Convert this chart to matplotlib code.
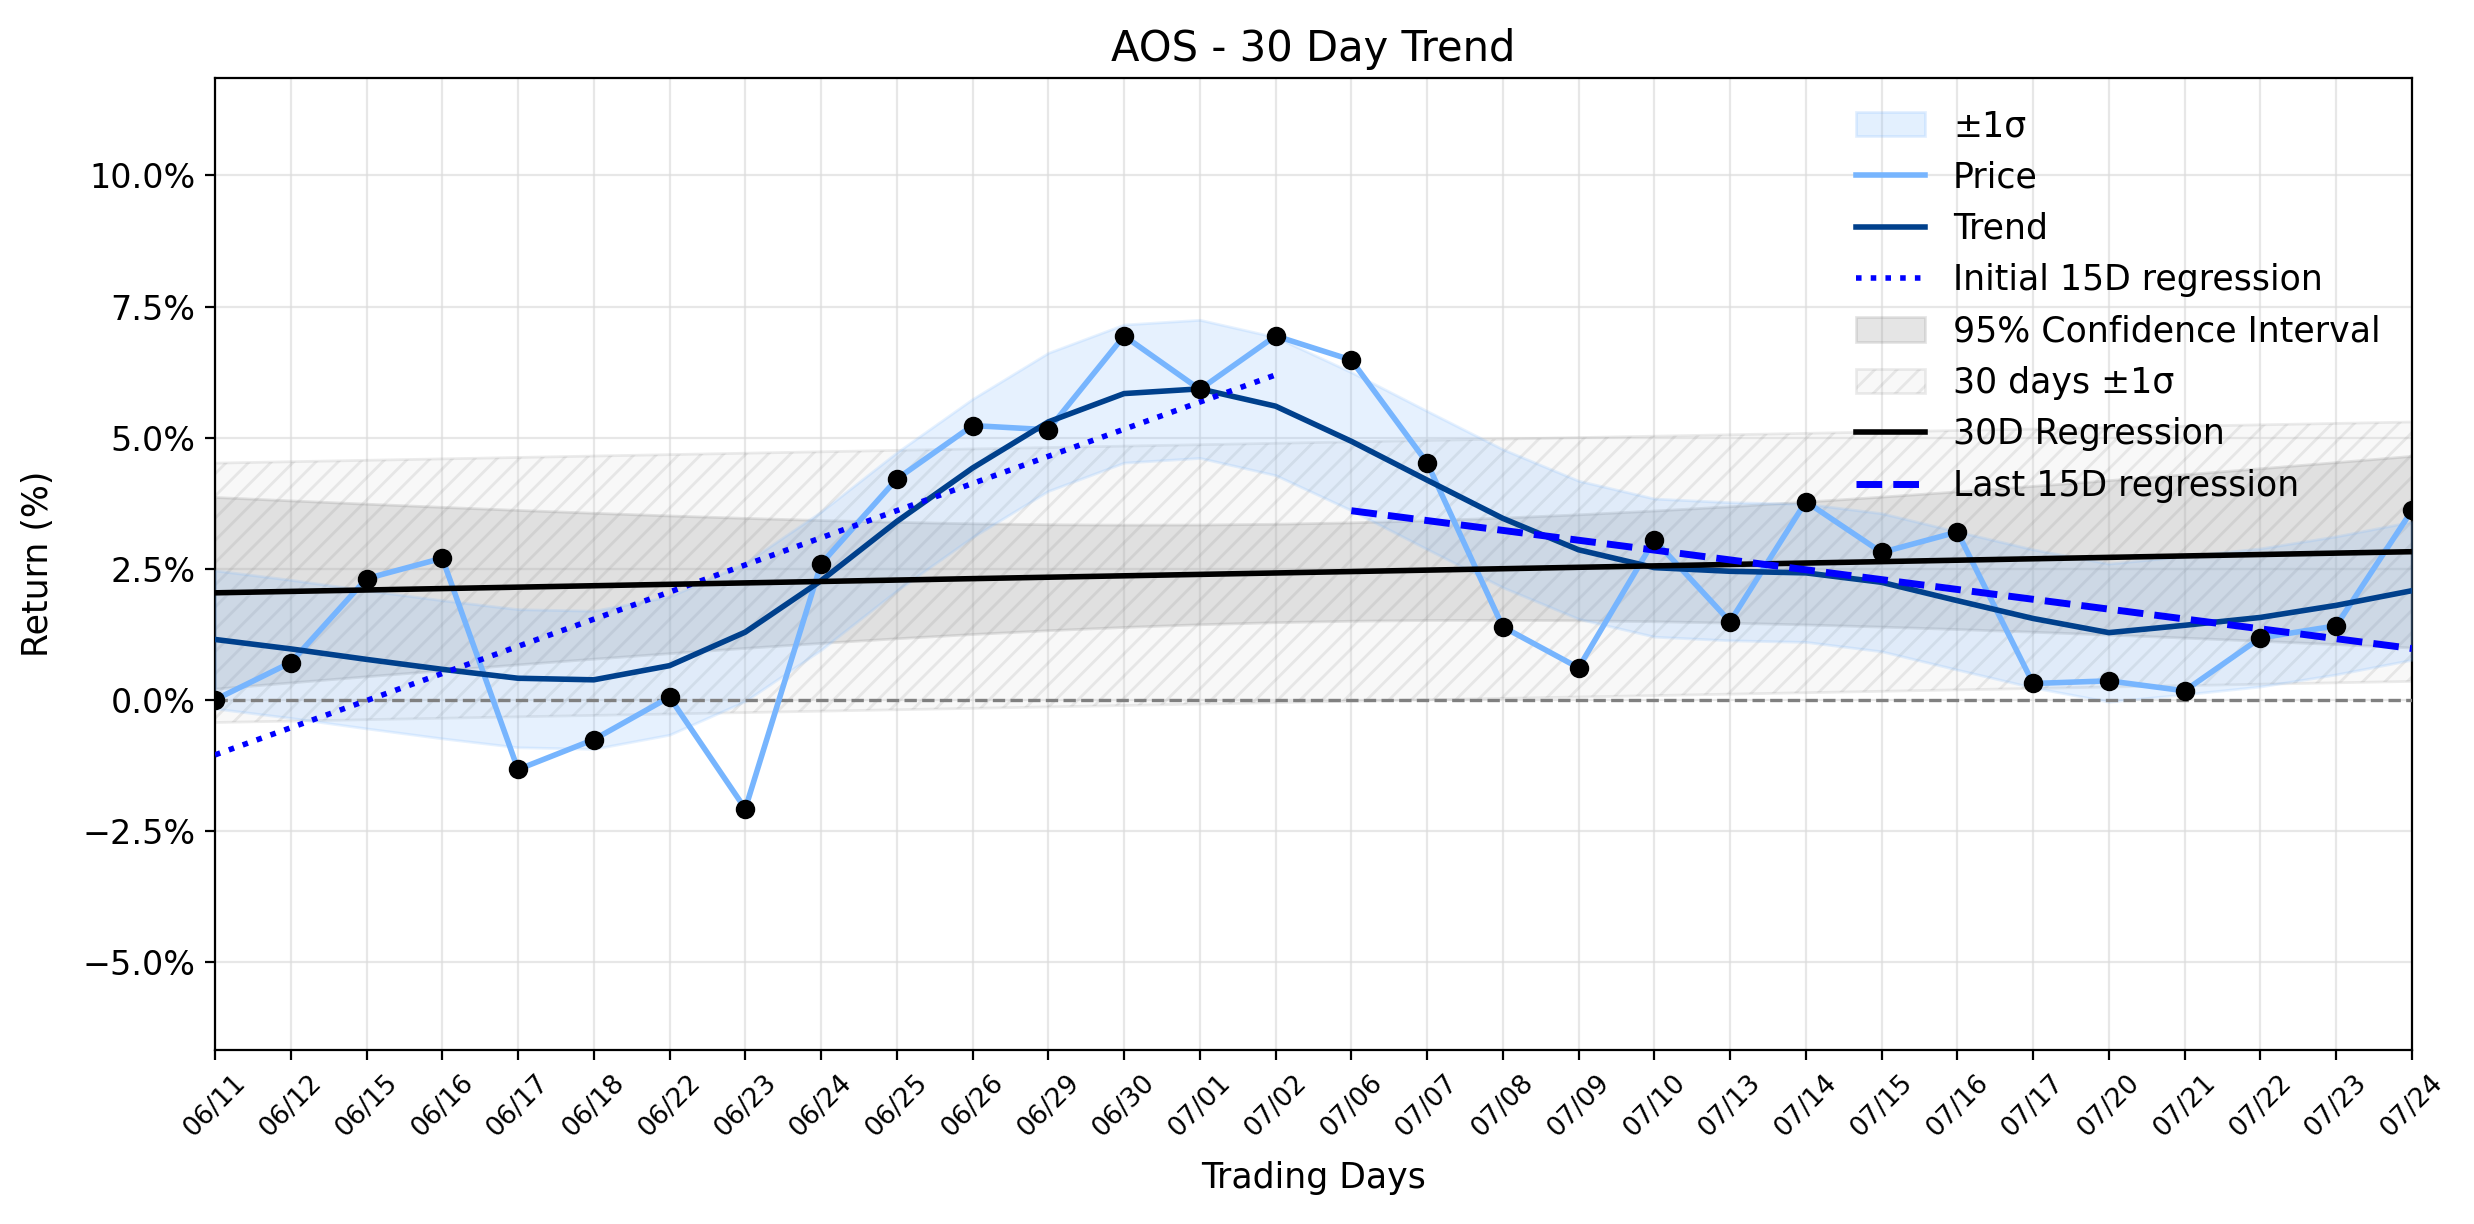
import numpy as np
import matplotlib
matplotlib.use("Agg")
import matplotlib.pyplot as plt
from matplotlib.patches import Patch
from matplotlib.lines import Line2D
from matplotlib.ticker import MultipleLocator, PercentFormatter

dates = ["06/11", "06/12", "06/15", "06/16", "06/17", "06/18", "06/22", "06/23",
         "06/24", "06/25", "06/26", "06/29", "06/30", "07/01", "07/02", "07/06",
         "07/07", "07/08", "07/09", "07/10", "07/13", "07/14", "07/15", "07/16",
         "07/17", "07/20", "07/21", "07/22", "07/23", "07/24"]

price = [0.00, 0.71, 2.31, 2.70, -1.33, -0.76, 0.05, -2.08, 2.59, 4.21,
         5.23, 5.15, 6.94, 5.92, 6.94, 6.48, 4.52, 1.39, 0.61, 3.05,
         1.49, 3.78, 2.81, 3.20, 0.31, 0.36, 0.17, 1.18, 1.41, 3.61]

trend = [1.15, 0.97, 0.77, 0.58, 0.41, 0.38, 0.65, 1.29, 2.27, 3.40,
         4.42, 5.30, 5.84, 5.93, 5.60, 4.93, 4.19, 3.46, 2.86, 2.52,
         2.45, 2.42, 2.24, 1.89, 1.55, 1.28, 1.42, 1.57, 1.80, 2.08]

T_975_DF28 = 2.048

price_c = "#77b5fe"
trend_c = "#00408c"

x = np.arange(len(price))
p = np.array(price)
tr = np.array(trend)
n = len(p)

# ±1σ band around trend
sig_tr = np.std(p - tr)

# 30D regression
b1, b0 = np.polyfit(x, p, 1)
reg = b0 + b1 * x
resid = p - reg
s = np.sqrt(np.sum(resid ** 2) / (n - 2))
sxx = np.sum((x - x.mean()) ** 2)
ci = T_975_DF28 * s * np.sqrt(1.0 / n + (x - x.mean()) ** 2 / sxx)
sd_all = np.std(p, ddof=1)

# 15D regressions
xi = x[:15]
a1, a0 = np.polyfit(xi, p[:15], 1)
xl = x[15:]
c1, c0 = np.polyfit(xl, p[15:], 1)

fig = plt.figure(figsize=(12.37, 6.12), dpi=200)
ax = fig.add_axes([0.0869, 0.1422, 0.888, 0.7941])

ax.fill_between(x, reg - sd_all, reg + sd_all, facecolor="lightgray", edgecolor="gray",
                alpha=0.15, hatch="///", linewidth=1, zorder=1)
ax.fill_between(x, reg - ci, reg + ci, color="gray", alpha=0.2, linewidth=1, zorder=2)
ax.fill_between(x, tr - sig_tr, tr + sig_tr, color=price_c, alpha=0.18, linewidth=1, zorder=3)

ax.axhline(0, color="gray", linestyle="--", linewidth=1.2, zorder=4)

ax.plot(x, p, color=price_c, linewidth=2, zorder=5)
ax.plot(x, tr, color=trend_c, linewidth=2, zorder=6)
ax.plot(xi, a0 + a1 * xi, color="blue", linestyle=":", linewidth=2, zorder=7)
ax.plot(x, reg, color="black", linewidth=2, zorder=7)
ax.plot(xl, c0 + c1 * xl, color="blue", linestyle="--", linewidth=2.5, zorder=7)
ax.plot(x, p, linestyle="none", marker="o", markersize=6, color="black", zorder=8)

ax.set_xlim(0, n - 1)
ax.set_ylim(-6.68, 11.86)
ax.set_xticks(x)
ax.set_xticklabels(dates, rotation=45, fontsize=9.5)
ax.yaxis.set_major_locator(MultipleLocator(2.5))
ax.yaxis.set_major_formatter(PercentFormatter(xmax=100, decimals=1))
ax.tick_params(axis="y", labelsize=12)
ax.grid(True, color="#dddddd", alpha=0.7, linewidth=0.8)
ax.set_axisbelow(True)

ax.set_title("AOS - 30 Day Trend", fontsize=15)
ax.set_xlabel("Trading Days", fontsize=12.5, labelpad=7)
ax.set_ylabel("Return (%)", fontsize=12.5, labelpad=10)

handles = [
    Patch(facecolor=price_c, edgecolor=price_c, alpha=0.2, label="±1σ"),
    Line2D([], [], color=price_c, linewidth=2, label="Price"),
    Line2D([], [], color=trend_c, linewidth=2, label="Trend"),
    Line2D([], [], color="blue", linestyle=":", linewidth=2, label="Initial 15D regression"),
    Patch(facecolor="gray", edgecolor="gray", alpha=0.2, label="95% Confidence Interval"),
    Patch(facecolor="lightgray", edgecolor="gray", alpha=0.15, hatch="///", label="30 days ±1σ"),
    Line2D([], [], color="black", linewidth=2, label="30D Regression"),
    Line2D([], [], color="blue", linestyle="--", linewidth=2.5, label="Last 15D regression"),
]
ax.legend(handles=handles, loc="upper right", frameon=False, fontsize=12.5)

fig.savefig("out.png", dpi=200)
